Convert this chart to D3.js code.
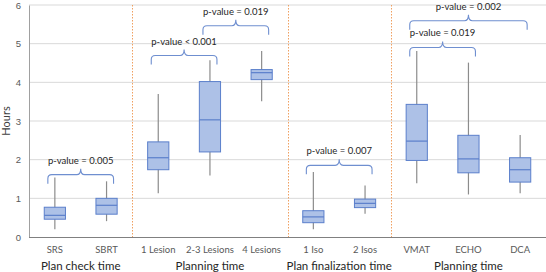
<!DOCTYPE html>
<html>
<head>
<meta charset="utf-8">
<script src="https://cdn.jsdelivr.net/npm/d3@7"></script>
<style>
  body { margin: 0; background: #fff; }
  svg { display: block; font-family: Lato, "Open Sans", sans-serif; }
</style>
</head>
<body>
<svg id="chart" width="546" height="272"></svg>
<script>
// categories and their group
const categories = ["SRS", "SBRT", "1 Lesion", "2-3 Lesions", "4 Lesions", "1 Iso", "2 Isos", "VMAT", "ECHO", "DCA"];
const groups = [
  {name: "Plan check time", from: 0, to: 1},
  {name: "Planning time", from: 2, to: 4},
  {name: "Plan finalization time", from: 5, to: 6},
  {name: "Planning time", from: 7, to: 9}
];

// box plot values (hours)
const whiskerLow  = [0.20, 0.41, 1.13, 1.59, 3.51, 0.20, 0.60, 1.39, 1.10, 1.13];
const q1          = [0.46, 0.59, 1.74, 2.20, 4.07, 0.37, 0.76, 1.98, 1.66, 1.42];
const median      = [0.56, 0.82, 2.05, 3.03, 4.25, 0.52, 0.87, 2.48, 2.02, 1.74];
const q3          = [0.77, 1.00, 2.46, 4.02, 4.33, 0.68, 0.98, 3.43, 2.63, 2.05];
const whiskerHigh = [1.54, 1.44, 3.70, 4.57, 4.81, 1.68, 1.33, 4.81, 4.51, 2.64];

const yTicks = [0, 1, 2, 3, 4, 5, 6];

// significance brackets: category index range, level of bracket ends (hours), label
const brackets = [
  {from: 0, to: 1, level: 1.38, label: "p-value = 0.005"},
  {from: 2, to: 3, level: 4.46, label: "p-value < 0.001"},
  {from: 3, to: 4, level: 5.23, label: "p-value = 0.019"},
  {from: 5, to: 6, level: 1.62, label: "p-value = 0.007"},
  {from: 7, to: 8, level: 4.67, label: "p-value = 0.019"},
  {from: 7, to: 9, level: 5.36, label: "p-value = 0.002"}
];

const svg = d3.select("#chart");
const margin = {left: 29, right: 0, top: 5, bottom: 35};
const W = 546, H = 272;

const x = d3.scaleBand().domain(d3.range(categories.length))
  .range([margin.left, W - margin.right]).paddingInner(0).paddingOuter(0);
const y = d3.scaleLinear().domain([0, 6]).range([H - margin.bottom, margin.top]);

// gridlines
svg.append("g").selectAll("line").data(yTicks.filter(d => d > 0)).join("line")
  .attr("x1", margin.left).attr("x2", W - margin.right)
  .attr("y1", d => y(d)).attr("y2", d => y(d))
  .attr("stroke", "#d9d9d9").attr("stroke-width", 1);

// group separators
svg.append("g").selectAll("line").data(groups.slice(1)).join("line")
  .attr("x1", d => Math.round(x(d.from)) + 0.5).attr("x2", d => Math.round(x(d.from)) + 0.5)
  .attr("y1", y(6)).attr("y2", y(0))
  .attr("stroke", "#f0a060").attr("stroke-width", 1).attr("stroke-dasharray", "1.5,1.5");

// y axis
const yAxis = svg.append("g").attr("transform", `translate(${margin.left},0)`)
  .call(d3.axisLeft(y).tickValues(yTicks).tickFormat(d3.format("d")).tickSize(0).tickPadding(8));
yAxis.select(".domain").attr("stroke", "#a0a0a0");
yAxis.selectAll("text").attr("fill", "#595959").style("font-size", "9.5px");

svg.append("line")
  .attr("x1", margin.left).attr("x2", W).attr("y1", y(0) + 0.5).attr("y2", y(0) + 0.5)
  .attr("stroke", "#808080").attr("stroke-width", 1.2);

svg.append("text")
  .attr("transform", `translate(10,${y(3)}) rotate(-90)`)
  .attr("text-anchor", "middle").attr("fill", "#404040")
  .style("font-size", "11px").text("Hours");

// category labels
svg.append("g").selectAll("text").data(categories).join("text")
  .attr("x", (d, i) => x(i) + x.bandwidth() / 2).attr("y", 253)
  .attr("text-anchor", "middle").attr("fill", "#595959")
  .style("font-size", "9.5px").text(d => d);

// group labels
svg.append("g").selectAll("text").data(groups).join("text")
  .attr("x", d => (x(d.from) + x(d.to) + x.bandwidth()) / 2).attr("y", 270)
  .attr("text-anchor", "middle").attr("fill", "#262626")
  .style("font-size", "11.5px").text(d => d.name);

// boxes
const bw = x.bandwidth() * 0.41;
const box = svg.append("g").selectAll("g").data(categories).join("g")
  .attr("transform", (d, i) => `translate(${x(i) + x.bandwidth() / 2},0)`);

box.append("line")
  .attr("x1", 0).attr("x2", 0)
  .attr("y1", (d, i) => y(whiskerLow[i])).attr("y2", (d, i) => y(whiskerHigh[i]))
  .attr("stroke", "#8c8c8c").attr("stroke-width", 1.2);

box.append("rect")
  .attr("x", -bw / 2).attr("width", bw)
  .attr("y", (d, i) => y(q3[i])).attr("height", (d, i) => y(q1[i]) - y(q3[i]))
  .attr("fill", "#adc1e7").attr("stroke", "#5b7fcb").attr("stroke-width", 1);

box.append("line")
  .attr("x1", -bw / 2).attr("x2", bw / 2)
  .attr("y1", (d, i) => y(median[i])).attr("y2", (d, i) => y(median[i]))
  .attr("stroke", "#5b7fcb").attr("stroke-width", 1.2);

// curly brackets
function bracePath(x1, x2, yb) {
  const yh = yb - 9, yt = yh - 6, xm = (x1 + x2) / 2, r = 4;
  return `M${x1},${yb} L${x1},${yh + r} Q${x1},${yh} ${x1 + r},${yh}` +
    ` L${xm - r},${yh} Q${xm},${yh} ${xm},${yt}` +
    ` Q${xm},${yh} ${xm + r},${yh} L${x2 - r},${yh}` +
    ` Q${x2},${yh} ${x2},${yh + r} L${x2},${yb}`;
}

const br = svg.append("g").selectAll("g").data(brackets).join("g");
br.append("path")
  .attr("d", d => bracePath(x(d.from) + x.bandwidth() / 2 - 7,
                            x(d.to) + x.bandwidth() / 2 + 7, y(d.level)))
  .attr("fill", "none").attr("stroke", "#6f8fd0").attr("stroke-width", 1.1);
br.append("text")
  .attr("x", d => (x(d.from) + x(d.to) + x.bandwidth()) / 2)
  .attr("y", d => y(d.level) - 20)
  .attr("text-anchor", "middle").attr("fill", "#262626")
  .style("font-size", "9.5px").text(d => d.label);
</script>
</body>
</html>
